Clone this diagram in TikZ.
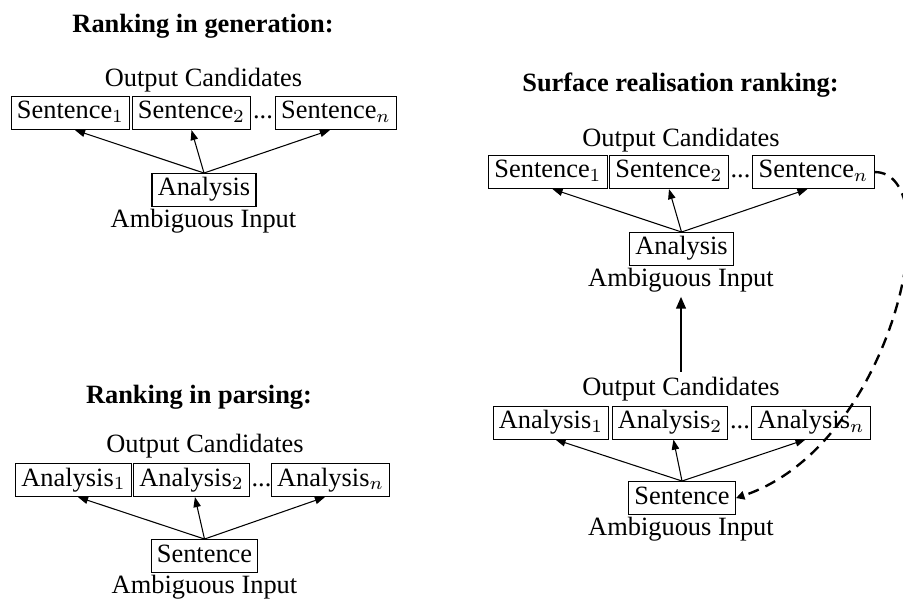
\documentclass[tikz,border=0pt]{standalone}
\usepackage{fontspec}
\setmainfont{Liberation Serif}
\usetikzlibrary{arrows.meta}
\begin{document}
\begin{tikzpicture}[x=0.37879pt,y=-0.37879pt,
  box/.style={draw,line width=0.4pt,inner xsep=2.2pt,inner ysep=1.5pt,text height=7pt,text depth=2.5pt,anchor=base},
  lbl/.style={inner sep=0pt,anchor=base},
  ttl/.style={inner sep=0pt,anchor=base,font=\bfseries},
  arr/.style={-{Triangle[length=3.8pt,width=2.8pt]},line width=0.4pt},
  bigarr/.style={-{Triangle[length=4.5pt,width=3.6pt]},line width=0.85pt},
  dasharr/.style={-{Triangle[length=3.2pt,width=3.2pt]},line width=0.9pt,dash pattern=on 4.2pt off 2.8pt}]
\useasboundingbox (0,0) rectangle (903,599);
% top left: generation
\node[ttl] (t1) at (203,33) {Ranking in generation:};
\node[lbl] (oc1) at (203.5,87) {Output Candidates};
\node[box] (g1) at (70.5,119) {Sentence$_1$};
\node[box] (g2) at (191.5,119) {Sentence$_2$};
\node[lbl] (gd) at (263,119) {...};
\node[box] (gn) at (336,119) {Sentence$_n$};
\node[box] (ga) at (204,196) {Analysis};
\node[lbl] (amb1) at (203.5,227.5) {Ambiguous Input};
\draw[arr] (ga.north) -- ([xshift=1.7pt]g1.south);
\draw[arr] (ga.north) -- (g2.south);
\draw[arr] (ga.north) -- ([xshift=-2.3pt]gn.south);
% bottom left: parsing
\node[ttl] (t2) at (199,403) {Ranking in parsing:};
\node[lbl] (oc2) at (205,453) {Output Candidates};
\node[box] (p1) at (73.5,486) {Analysis$_1$};
\node[box] (p2) at (191.5,486) {Analysis$_2$};
\node[lbl] (pd) at (261.5,486) {...};
\node[box] (pn) at (330.5,486) {Analysis$_n$};
\node[box] (ps) at (204.5,562) {Sentence};
\node[lbl] (amb2) at (204.5,593) {Ambiguous Input};
\draw[arr] (ps.north) -- ([xshift=1.7pt]p1.south);
\draw[arr] (ps.north) -- ([xshift=1.3pt]p2.south);
\draw[arr] (ps.north) -- ([xshift=-2.1pt]pn.south);
% right: surface realisation ranking
\node[ttl] (t3) at (680.5,92) {Surface realisation ranking:};
\node[lbl] (oc3) at (681,146.5) {Output Candidates};
\node[box] (r1) at (548,178) {Sentence$_1$};
\node[box] (r2) at (669,178) {Sentence$_2$};
\node[lbl] (rd) at (740.5,178) {...};
\node[box] (rn) at (813.5,178) {Sentence$_n$};
\node[box] (ra) at (681.5,255) {Analysis};
\node[lbl] (amb3) at (681,286.5) {Ambiguous Input};
\draw[arr] (ra.north) -- ([xshift=1.7pt]r1.south);
\draw[arr] (ra.north) -- (r2.south);
\draw[arr] (ra.north) -- ([xshift=-2.3pt]rn.south);
\node[lbl] (oc4) at (681,396) {Output Candidates};
\node[box] (q1) at (551,428.5) {Analysis$_1$};
\node[box] (q2) at (670,428.5) {Analysis$_2$};
\node[lbl] (qd) at (740,428.5) {...};
\node[box] (qn) at (811,428.5) {Analysis$_n$};
\node[box] (qs) at (682,504) {Sentence};
\node[lbl] (amb4) at (681,535) {Ambiguous Input};
\draw[arr] (qs.north) -- ([xshift=1.7pt]q1.south);
\draw[arr] (qs.north) -- ([xshift=1.3pt]q2.south);
\draw[arr] (qs.north) -- ([xshift=-2.1pt]qn.south);
\draw[bigarr,shorten <=2pt,shorten >=1.5pt] (oc4.north) -- (amb3.south);
\draw[dasharr] (rn.east) .. controls (950,172) and (895,445) .. (qs.east);
\end{tikzpicture}
\end{document}
